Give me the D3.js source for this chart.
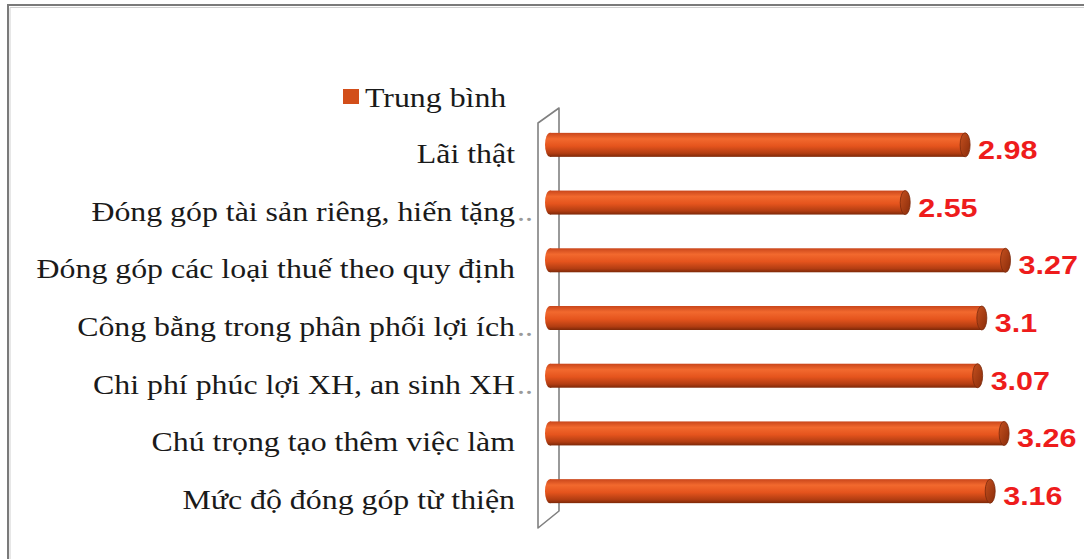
<!DOCTYPE html>
<html lang="vi">
<head>
    <meta charset="UTF-8">
    <title>Trung bình</title>
    <script src="https://d3js.org/d3.v7.min.js"></script>
</head>
<body>
<div id="chart">
    <svg></svg>
</div>
</body>

<style>
    html, body {
        margin: 0;
        padding: 0;
        background: #fff;
    }

    #chart svg {
        display: block;
    }

    text.cat {
        font-family: "Liberation Serif", "Times New Roman", serif;
        font-size: 27px;
        fill: #1a1a1a;
    }

    text.val {
        font-family: "Liberation Sans", Arial, sans-serif;
        font-size: 25px;
        font-weight: bold;
        fill: #ee1c1c;
    }
</style>

<script>
    // data, top to bottom
    const categories = [
        'Lãi thật',
        'Đóng góp tài sản riêng, hiến tặng',
        'Đóng góp các loại thuế theo quy định',
        'Công bằng trong phân phối lợi ích',
        'Chi phí phúc lợi XH, an sinh XH',
        'Chú trọng tạo thêm việc làm',
        'Mức độ đóng góp từ thiện'
    ];
    const values = [2.98, 2.55, 3.27, 3.1, 3.07, 3.26, 3.16];
    // labels that Excel cut short
    const truncated = [false, true, false, true, true, false, false];
    const seriesName = 'Trung bình';

    const width = 1084;
    const height = 559;
    const stretch = 1.18; // the picture is wider than its fonts

    const svg = d3.select('svg')
        .attr('width', width)
        .attr('height', height);

    const defs = svg.append('defs');
    const grad = defs.append('linearGradient')
        .attr('id', 'tube')
        .attr('x1', 0).attr('y1', 0).attr('x2', 0).attr('y2', 1);
    grad.append('stop').attr('offset', '0%').attr('stop-color', '#c9461b');
    grad.append('stop').attr('offset', '25%').attr('stop-color', '#f2692e');
    grad.append('stop').attr('offset', '55%').attr('stop-color', '#e5541d');
    grad.append('stop').attr('offset', '85%').attr('stop-color', '#b23d12');
    grad.append('stop').attr('offset', '100%').attr('stop-color', '#7d2808');

    const capGrad = defs.append('linearGradient')
        .attr('id', 'cap')
        .attr('x1', 0).attr('y1', 0).attr('x2', 1).attr('y2', 1);
    capGrad.append('stop').attr('offset', '0%').attr('stop-color', '#c4501f');
    capGrad.append('stop').attr('offset', '100%').attr('stop-color', '#8a2c0a');

    // outer frame (right and bottom edges lie off the picture)
    svg.append('rect')
        .attr('x', 8).attr('y', 5)
        .attr('width', width + 10).attr('height', height + 10)
        .attr('fill', 'none')
        .attr('stroke', '#7a7a7a')
        .attr('stroke-width', 2);
    svg.append('path')
        .attr('d', `M10,${height + 10}V7.5H${width + 10}`)
        .attr('fill', 'none')
        .attr('stroke', '#d0d0d0')
        .attr('stroke-width', 1);

    const x = d3.scaleLinear()
        .domain([0, 3.5])
        .range([550, 550 + 3.5 * 139.3]);

    const y = d3.scaleBand()
        .domain(categories)
        .range([116, 520])
        .paddingInner(0.58)
        .paddingOuter(0.29);

    const barH = 24;
    const capRx = 5;

    // 3D back wall of the category axis
    const wallTop = 108, wallBottom = 511, depthX = 21, depthY = 15;
    const wallX = x(0) + 9;
    svg.append('path')
        .attr('d', `M${wallX - depthX},${wallTop + depthY}L${wallX},${wallTop}V${wallBottom}L${wallX - depthX},${wallBottom + depthY + 2}Z`)
        .attr('fill', 'none')
        .attr('stroke', '#808080')
        .attr('stroke-width', 1.6)
        .attr('stroke-linejoin', 'round');

    const bar = svg.append('g')
        .selectAll('g')
        .data(categories)
        .join('g')
        .attr('transform', d => `translate(0,${y(d) + y.bandwidth() / 2})`);

    bar.append('rect')
        .attr('x', x(0))
        .attr('y', -barH / 2)
        .attr('width', (d, i) => x(values[i]) - x(0))
        .attr('height', barH)
        .attr('fill', 'url(#tube)');

    bar.append('ellipse')
        .attr('cx', x(0))
        .attr('cy', 0)
        .attr('rx', capRx)
        .attr('ry', barH / 2)
        .attr('fill', 'url(#tube)');

    bar.append('ellipse')
        .attr('cx', (d, i) => x(values[i]))
        .attr('cy', 0)
        .attr('rx', capRx)
        .attr('ry', barH / 2)
        .attr('fill', 'url(#cap)')
        .attr('stroke', '#7a2a0c')
        .attr('stroke-width', 0.8);

    bar.append('text')
        .attr('class', 'val')
        .attr('transform', (d, i) => `translate(${x(values[i]) + capRx + 8},14) scale(${stretch + 0.04},1)`)
        .text((d, i) => values[i]);

    // category labels
    bar.append('text')
        .attr('class', 'cat')
        .attr('text-anchor', 'end')
        .attr('transform', `translate(515,18) scale(${stretch},1)`)
        .text(d => d);

    bar.filter((d, i) => truncated[i])
        .append('text')
        .attr('class', 'cat')
        .attr('transform', `translate(517,18) scale(${stretch},1)`)
        .style('fill', '#9a9a9a')
        .text('..');

    // legend
    const legend = svg.append('g')
        .attr('transform', 'translate(343,89)');
    legend.append('rect')
        .attr('width', 16)
        .attr('height', 15)
        .attr('fill', '#d24e1a');
    legend.append('text')
        .attr('class', 'cat')
        .attr('transform', `translate(22,18) scale(${stretch},1)`)
        .text(seriesName);
</script>
</html>
